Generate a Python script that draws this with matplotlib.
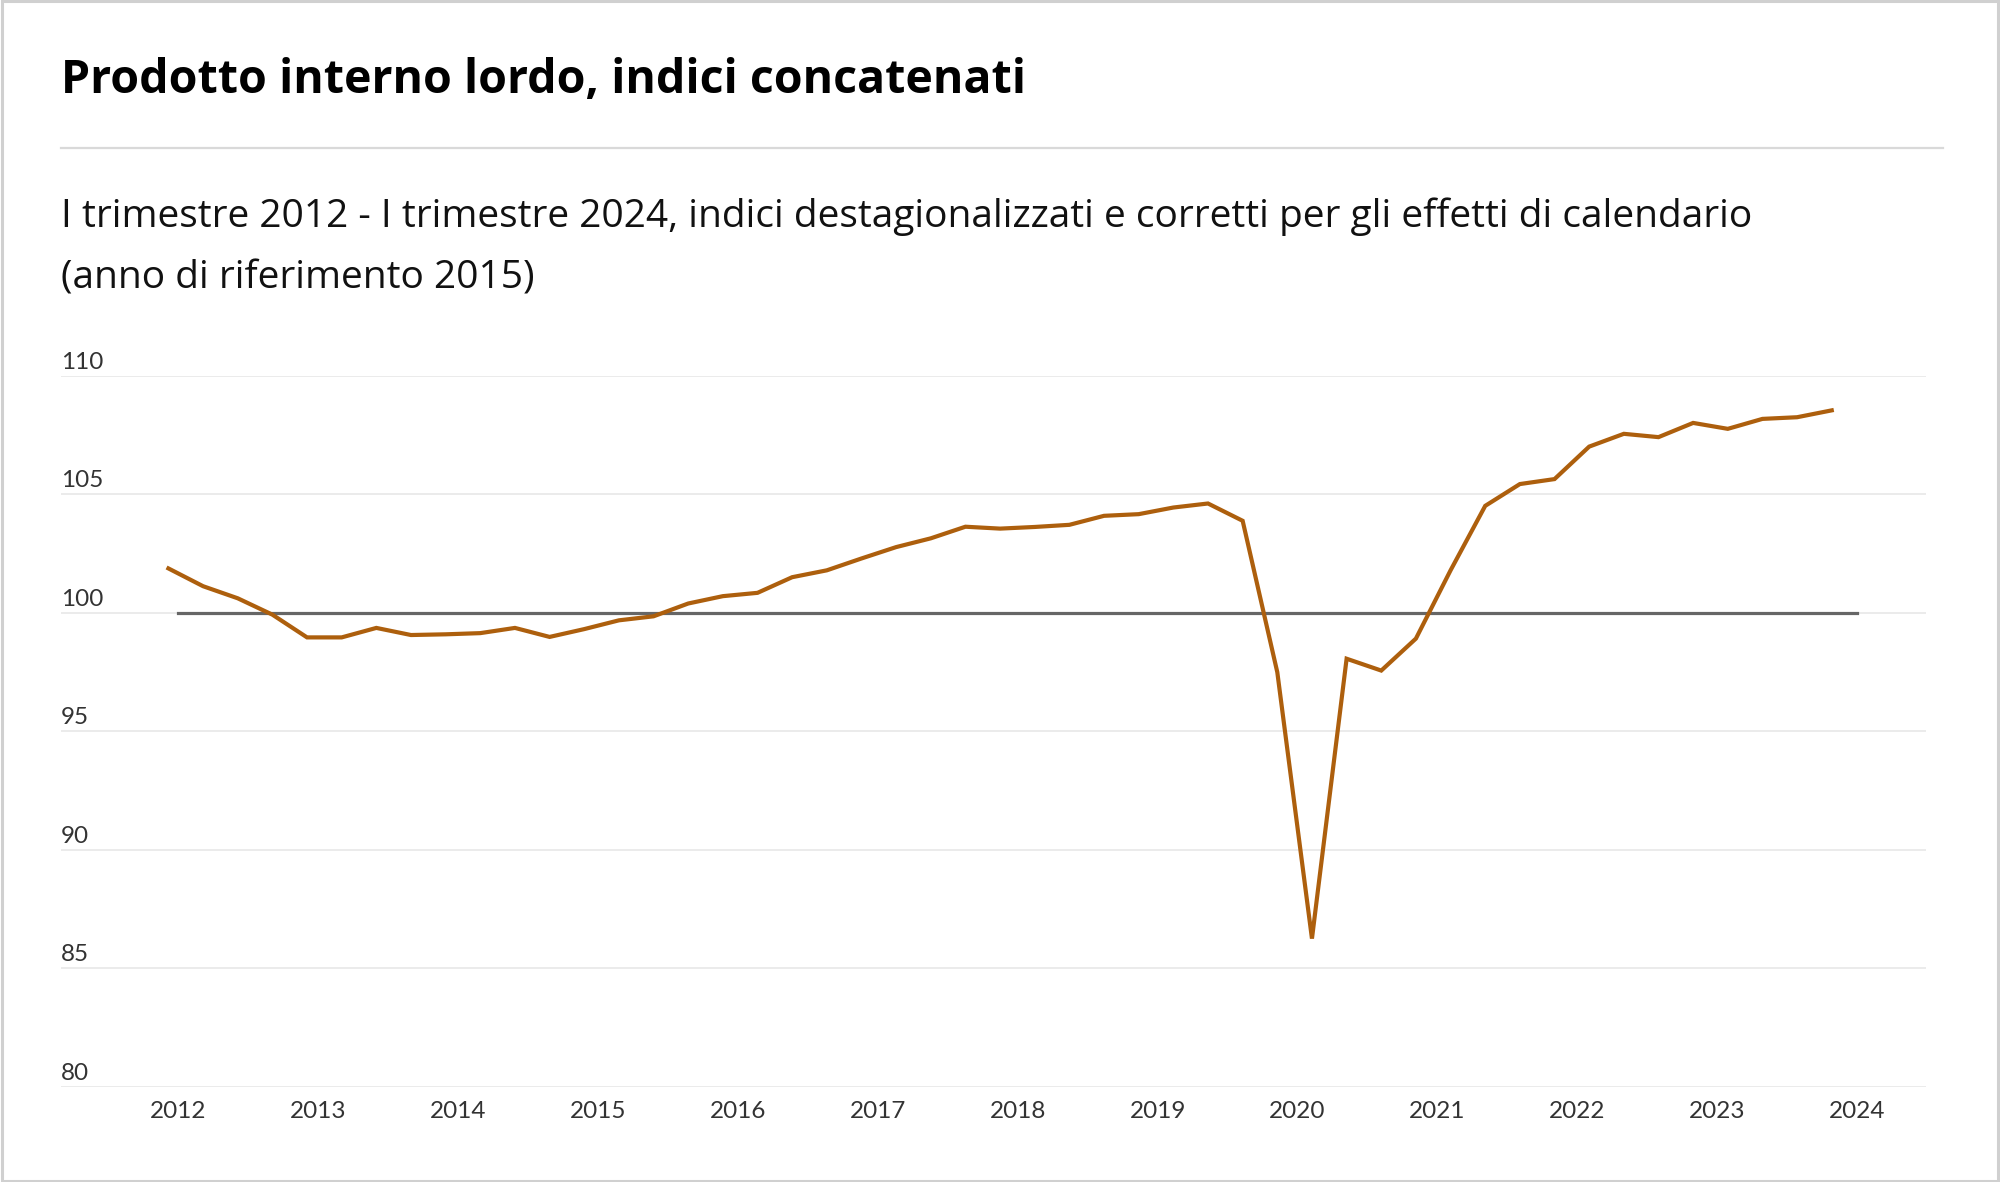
import numpy as np
import matplotlib
matplotlib.use("Agg")
import matplotlib.pyplot as plt
import matplotlib.transforms as mtransforms
from matplotlib.patches import Rectangle
from matplotlib.lines import Line2D

plt.rcParams['font.family'] = ['Lato', 'DejaVu Sans']

# quarterly GDP index, Q1 2012 .. Q1 2024 (2015 = 100)
quarters = ['2012Q1', '2012Q2', '2012Q3', '2012Q4',
            '2013Q1', '2013Q2', '2013Q3', '2013Q4',
            '2014Q1', '2014Q2', '2014Q3', '2014Q4',
            '2015Q1', '2015Q2', '2015Q3', '2015Q4',
            '2016Q1', '2016Q2', '2016Q3', '2016Q4',
            '2017Q1', '2017Q2', '2017Q3', '2017Q4',
            '2018Q1', '2018Q2', '2018Q3', '2018Q4',
            '2019Q1', '2019Q2', '2019Q3', '2019Q4',
            '2020Q1', '2020Q2', '2020Q3', '2020Q4',
            '2021Q1', '2021Q2', '2021Q3', '2021Q4',
            '2022Q1', '2022Q2', '2022Q3', '2022Q4',
            '2023Q1', '2023Q2', '2023Q3', '2023Q4',
            '2024Q1']
pil = [101.88, 101.13, 100.62, 99.93,
       98.97, 98.97, 99.37, 99.07,
       99.10, 99.15, 99.37, 98.99,
       99.32, 99.69, 99.86, 100.40,
       100.71, 100.85, 101.51, 101.80,
       102.30, 102.78, 103.15, 103.64,
       103.56, 103.63, 103.72, 104.10,
       104.17, 104.45, 104.62, 103.89,
       97.50, 86.26, 98.07, 97.57,
       98.92, 101.80, 104.52, 105.44,
       105.65, 107.02, 107.56, 107.42,
       108.02, 107.77, 108.19, 108.26,
       108.55]
year_labels = [str(y) for y in range(2012, 2025)]
y_ticks = [80, 85, 90, 95, 100, 105, 110]
base = 100

title = "Prodotto interno lordo, indici concatenati"
subtitle1 = ("I trimestre 2012 - I trimestre 2024, indici destagionalizzati "
             "e corretti per gli effetti di calendario")
subtitle2 = "(anno di riferimento 2015)"

LINE_COL = '#ad5f0d'
GRID_COL = '#ebebeb'
HEAD_FONT = ['Open Sans', 'DejaVu Sans']

fig = plt.figure(figsize=(20, 11.82), dpi=100)
fig.patch.set_facecolor('white')

# outer frame
fig.add_artist(Rectangle((0.0008, 0.0012), 0.9984, 0.9976, transform=fig.transFigure,
                         fill=False, edgecolor='#d0d0d0', linewidth=2.2))

fig.text(0.0305, 0.9211, title, fontsize=33.5, fontweight='bold', family=HEAD_FONT,
         color='#000000', va='baseline', ha='left')
fig.add_artist(Line2D([0.0305, 0.9715], [0.875, 0.875], transform=fig.transFigure,
                      color='#d9d9d9', linewidth=1.6))
fig.text(0.0305, 0.8082, subtitle1, fontsize=28, color='#111111', family=HEAD_FONT,
         va='baseline', ha='left')
fig.text(0.0305, 0.7555, subtitle2, fontsize=28, color='#111111', family=HEAD_FONT,
         va='baseline', ha='left')

ax = fig.add_axes([0.0305, 0.0804, 0.9325, 0.6015])
x = np.arange(len(pil))
ax.set_xlim(-3.10, 50.72)
ax.set_ylim(80, 110)

for v in y_ticks:
    ax.axhline(v, color=GRID_COL, linewidth=1.4, zorder=1)

# year ticks sit slightly off the quarterly points, as in the source chart
tick_pos = np.linspace(0.29, 48.73, len(year_labels))
ax.plot([tick_pos[0], tick_pos[-1]], [base, base], color='#666666',
        linewidth=2.3, zorder=2)
ax.plot(x, pil, color=LINE_COL, linewidth=3.0, zorder=3,
        solid_joinstyle='miter')

ax.set_xticks(tick_pos)
ax.set_xticklabels(year_labels, fontsize=17.5, color='#333333')
ax.tick_params(axis='x', length=0, pad=10)
ax.set_yticks([])

off = mtransforms.offset_copy(ax.get_yaxis_transform(), fig=fig, x=0, y=7, units='dots')
for v in y_ticks:
    ax.text(0, v, str(v), transform=off, fontsize=17.5, color='#333333',
            ha='left', va='baseline')

for s in ax.spines.values():
    s.set_visible(False)

fig.savefig('out.png', dpi=100, facecolor='white')
